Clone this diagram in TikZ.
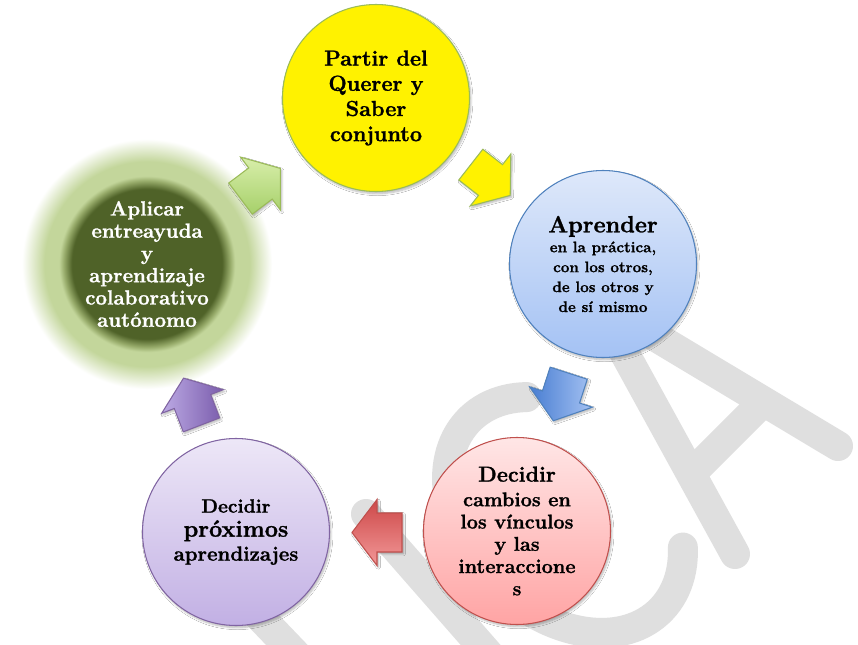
\documentclass[tikz,border=0pt]{standalone}
\usepackage{fontspec}
\setmainfont{lmroman12-regular.otf}[BoldFont=lmroman12-bold.otf,BoldFeatures={FakeBold=1.2}]
\usepackage{tikz}
\usetikzlibrary{shadows.blur}
\definecolor{olivegreen}{RGB}{155,187,89}
\definecolor{darkolive}{RGB}{79,98,40}
\definecolor{glowgreen}{RGB}{195,214,155}
\definecolor{glowmid}{RGB}{150,170,105}
\definecolor{skyblue}{RGB}{79,129,189}
\definecolor{lightblue}{RGB}{222,232,250}
\definecolor{midblue}{RGB}{164,194,244}
\definecolor{brickred}{RGB}{192,80,77}
\definecolor{lightrose}{RGB}{255,230,230}
\definecolor{midrose}{RGB}{255,164,164}
\definecolor{lavender}{RGB}{128,100,162}
\definecolor{lightlav}{RGB}{237,231,247}
\definecolor{midlav}{RGB}{194,176,228}
\definecolor{wmgray}{RGB}{223,223,223}
\definecolor{greenA}{RGB}{216,238,170}
\definecolor{greenB}{RGB}{166,208,106}
\definecolor{blueA}{RGB}{72,125,210}
\definecolor{blueB}{RGB}{165,194,242}
\definecolor{redA}{RGB}{205,72,72}
\definecolor{redB}{RGB}{242,152,152}
\definecolor{purpleA}{RGB}{188,170,228}
\definecolor{purpleB}{RGB}{122,92,172}
\pgfdeclareradialshading{glowring}{\pgfpoint{0bp}{0bp}}{color(0bp)=(darkolive); color(15bp)=(darkolive); color(16.6bp)=(glowmid); color(17.6bp)=(glowgreen); color(20.5bp)=(glowgreen); color(25bp)=(white); color(50bp)=(white)}
\tikzset{
  stage/.style={circle,minimum size=5.61cm,inner sep=0pt,align=center,line width=0.9pt,
    blur shadow={shadow xshift=1.2pt,shadow yshift=-1.8pt,shadow blur steps=6,shadow opacity=28}},
  watermark/.style={line width=0.9cm,draw=wmgray,line cap=round,line join=round},
  arrbase/.style={line width=0.9pt,line join=miter,
    blur shadow={shadow xshift=1.2pt,shadow yshift=-1.5pt,shadow blur steps=5,shadow opacity=30}},
  greenarr/.style={arrbase,draw=olivegreen,top color=greenA,bottom color=greenB},
  yellowarr/.style={arrbase,draw=olivegreen,fill=yellow},
  bluearr/.style={arrbase,draw=skyblue,left color=blueA,right color=blueB},
  redarr/.style={arrbase,draw=brickred,top color=redA,bottom color=redB},
  purplearr/.style={arrbase,draw=lavender,left color=purpleA,right color=purpleB},
  pics/cyclearr/.style={code={
    \path[#1] (-25,-19.5) -- (0,-19.5) -- (0,-33) -- (25,0) -- (0,33) -- (0,19.5) -- (-25,19.5) -- cycle;
  }}
}

\begin{document}
\begin{tikzpicture}[
  x=0.03cm,y=-0.03cm,
  partirtext/.style={font=\bfseries\fontsize{18.5}{21.5}\selectfont},
  aprendertext/.style={font=\bfseries\fontsize{13}{17}\selectfont},
  cambiostext/.style={font=\bfseries\fontsize{17}{19}\selectfont},
  proximostext/.style={font=\bfseries\fontsize{17.5}{20.5}\selectfont},
  aplicartext/.style={font=\bfseries\fontsize{17.5}{19}\selectfont,text=white}
]

\path[use as bounding box,fill=white] (0,0) rectangle (858,645);

\begin{scope}
  \clip (0,0) rectangle (858,645);
  \draw[watermark] (366,514) -- (520,690);
  \draw[watermark] (215,570) -- (330,690);
  \draw[watermark] plot[domain=145:398,samples=90]
    ({565+0.707*(135*cos(\x)+98*sin(\x))},{515+0.707*(135*cos(\x)-98*sin(\x))});
  \draw[watermark] (735,554) -- (596,301) -- (838,446);
  \draw[watermark] (692,473) -- (762,403);
\end{scope}

\coordinate (partirc)   at (376,98);
\coordinate (aprenderc) at (603,264);
\coordinate (cambiosc)  at (517,531);
\coordinate (proximosc) at (236,532);
\coordinate (aplicarc)  at (147,264);

\coordinate (toPartir)   at (260.5,183.5);
\coordinate (toAprender) at (490.5,180);
\coordinate (toCambios)  at (561,397);
\coordinate (toProximos) at (377,532.5);
\coordinate (toAplicar)  at (192.5,401.5);

\node[circle,minimum size=7.5cm,inner sep=0pt,shading=glowring,align=center,aplicartext]
  (aplicar) at (aplicarc)
  {Aplicar\\entreayuda\\y\\aprendizaje\\colaborativo\\autónomo};

\node[stage,draw=olivegreen,fill=yellow,partirtext] (partir) at (partirc)
  {Partir del\\Querer y\\Saber\\conjunto};

\node[stage,draw=skyblue,top color=lightblue,bottom color=midblue,aprendertext]
  (aprender) at (aprenderc)
  {{\fontsize{20}{22}\selectfont Aprender}\\en la práctica,\\con los otros,\\de los otros y\\de sí mismo};

\node[stage,draw=brickred,top color=lightrose,bottom color=midrose,cambiostext]
  (cambios) at (cambiosc)
  {{\fontsize{18.5}{22}\selectfont Decidir}\\[2pt]cambios en\\los vínculos\\y las\\interaccione\\s};

\node[stage,draw=lavender,top color=lightlav,bottom color=midlav,proximostext]
  (proximos) at (proximosc)
  {{\fontsize{16.5}{20}\selectfont Decidir}\\{\fontsize{20}{20}\selectfont próximos}\\aprendizajes};

\pic[rotate=37]   at (toPartir)   {cyclearr=greenarr};
\pic[rotate=-38]  at (toAprender) {cyclearr=yellowarr};
\pic[rotate=-108] at (toCambios)  {cyclearr=bluearr};
\pic[rotate=180]  at (toProximos) {cyclearr=redarr};
\pic[rotate=111]  at (toAplicar)  {cyclearr=purplearr};

\end{tikzpicture}
\end{document}
